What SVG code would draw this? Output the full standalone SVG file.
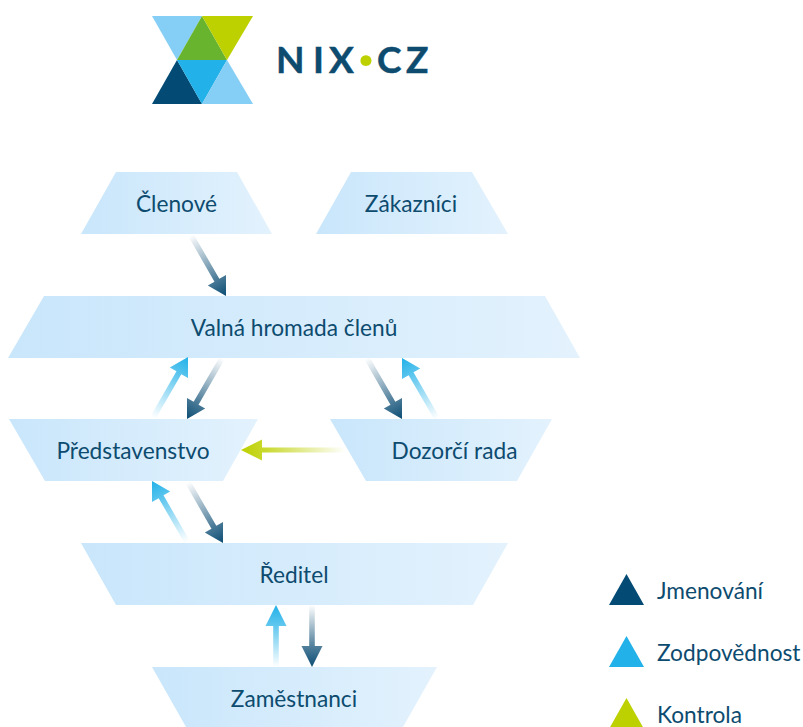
<svg xmlns="http://www.w3.org/2000/svg" width="803" height="727" viewBox="0 0 803 727">
<style>
text{font-family:"Lato","Liberation Sans",sans-serif;font-size:22.7px;fill:#0d4b6f}
.n{fill:url(#nf)}
.c{text-anchor:middle}
.lg{font-weight:700;font-size:37px;stroke:#0d4b6f;stroke-width:.5px}
.dot{font-size:58px;fill:#bdd000;stroke:none}
</style>
<defs>
<linearGradient id="nf" x1="0" y1="0" x2="1" y2="0"><stop offset="0" stop-color="#c9e6fb"/><stop offset="1" stop-color="#e3f2fd"/></linearGradient>
<linearGradient id="gd" gradientUnits="userSpaceOnUse" x1="0" y1="-70" x2="0" y2="0"><stop offset="0" stop-color="#0c4d74" stop-opacity="0"/><stop offset=".7" stop-color="#0c4d74" stop-opacity=".72"/><stop offset="1" stop-color="#0c4d74"/></linearGradient>
<linearGradient id="gb" gradientUnits="userSpaceOnUse" x1="0" y1="-70" x2="0" y2="0"><stop offset="0" stop-color="#22b1e8" stop-opacity="0"/><stop offset=".7" stop-color="#22b1e8" stop-opacity=".72"/><stop offset="1" stop-color="#22b1e8"/></linearGradient>
<linearGradient id="gg" gradientUnits="userSpaceOnUse" x1="0" y1="-104" x2="0" y2="0"><stop offset="0" stop-color="#bdd000" stop-opacity="0"/><stop offset=".75" stop-color="#bdd000" stop-opacity=".8"/><stop offset="1" stop-color="#bdd000"/></linearGradient>
<linearGradient id="gdv" gradientUnits="userSpaceOnUse" x1="0" y1="-62" x2="0" y2="0"><stop offset="0" stop-color="#0c4d74" stop-opacity="0"/><stop offset=".67" stop-color="#0c4d74" stop-opacity=".72"/><stop offset="1" stop-color="#0c4d74"/></linearGradient>
<linearGradient id="gbv" gradientUnits="userSpaceOnUse" x1="0" y1="-62" x2="0" y2="0"><stop offset="0" stop-color="#22b1e8" stop-opacity="0"/><stop offset=".67" stop-color="#22b1e8" stop-opacity=".72"/><stop offset="1" stop-color="#22b1e8"/></linearGradient>
<path id="a" d="M-2.800-70H2.800V-18.200H10.500L0 0-10.500-18.200H-2.800Z"/>
<path id="av" d="M-2.800-62H2.800V-21H10.500L0 0-10.500-21H-2.800Z"/>
<path id="ag" d="M-2.500-104H2.500V-21H10.500L0 0-10.500-21H-2.500Z"/>
</defs>
<g id="logo">
<polygon points="152,16 202,16 177,60" fill="#85cef5"/>
<polygon points="202,16 227,60 177,60" fill="#69b42f"/>
<polygon points="202,16 253,16 227,60" fill="#bdd000"/>
<polygon points="152,104 177,60 202,104" fill="#034b74"/>
<polygon points="177,60 227,60 202,104" fill="#22b1e8"/>
<polygon points="202,104 227,60 253,104" fill="#85cef5"/>
<text class="lg" x="276 313 329 358 377 406" y="73">NIX<tspan class="dot" dy="4.600">·</tspan><tspan dy="-4.600">CZ</tspan></text>
</g>
<g id="clenove"><polygon class="n" points="116,172 237,172 272,234 81,234"/><text class="c" x="176.500" y="211.500">Členové</text></g>
<g id="zakaznici"><polygon class="n" points="351,172 472,172 508,234 316,234"/><text class="c" x="411" y="211.500">Zákazníci</text></g>
<g id="valna"><polygon class="n" points="44,296 545,296 580,358 8,358"/><text class="c" x="294" y="335.500">Valná hromada členů</text></g>
<g id="predstavenstvo"><polygon class="n" points="9,419 258,419 223,481 45,481"/><text class="c" x="133" y="458.500">Představenstvo</text></g>
<g id="dozorci"><polygon class="n" points="330,419 552,419 517,481 366,481"/><text class="c" x="454.500" y="458.500">Dozorčí rada</text></g>
<g id="reditel"><polygon class="n" points="81,543 508,543 473,605 116,605"/><text class="c" x="294" y="582.500">Ředitel</text></g>
<g id="zamestnanci"><polygon class="n" points="152,667 437,667 403,727 186,727"/><text class="c" x="294" y="706.500">Zaměstnanci</text></g>
<g id="connectors">
<use href="#a" fill="url(#gd)" transform="translate(226,296) rotate(-30)"/>
<use href="#a" fill="url(#gb)" transform="translate(188,357) rotate(-150)"/>
<use href="#a" fill="url(#gd)" transform="translate(187,419) rotate(30)"/>
<use href="#a" fill="url(#gd)" transform="translate(402,419) rotate(-30)"/>
<use href="#a" fill="url(#gb)" transform="translate(402,358) rotate(150)"/>
<use href="#a" fill="url(#gb)" transform="translate(152,481) rotate(150)"/>
<use href="#a" fill="url(#gd)" transform="translate(223,543) rotate(-30)"/>
<use href="#ag" fill="url(#gg)" transform="translate(241,450) rotate(90)"/>
<use href="#av" fill="url(#gbv)" transform="translate(276,605) rotate(180)"/>
<use href="#av" fill="url(#gdv)" transform="translate(312,667)"/>
</g>
<g id="legend">
<polygon points="609,605 644,605 626.500,574" fill="#034b74"/>
<polygon points="609,667 644,667 626.500,636" fill="#22b1e8"/>
<polygon points="609,729 644,729 626.500,698" fill="#bdd000"/>
<text x="657" y="598.500">Jmenování</text>
<text x="657" y="660.500">Zodpovědnost</text>
<text x="657" y="722.500">Kontrola</text>
</g>
</svg>
